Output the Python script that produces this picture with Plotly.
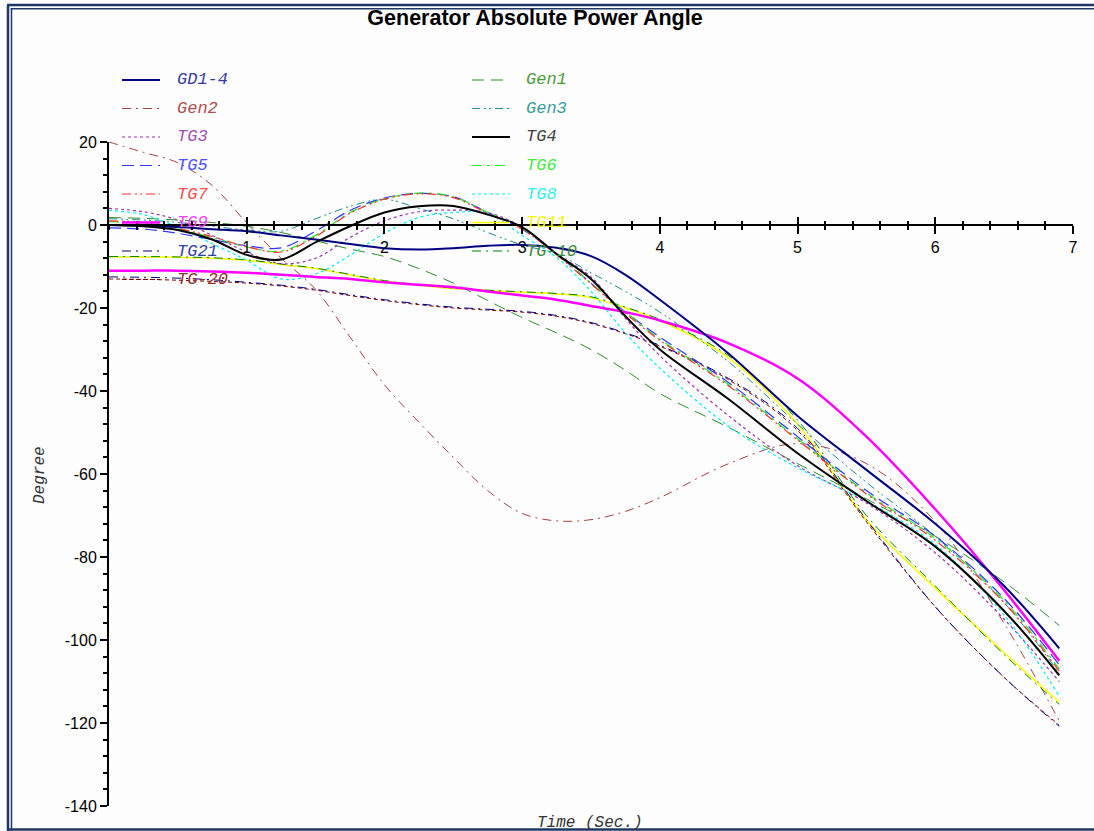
import numpy as np
import plotly.graph_objects as go

# ---- data -------------------------------------------------------------
TIME = [0, 0.25, 0.5, 0.75, 1.0, 1.25, 1.5, 1.75, 2.0, 2.25, 2.5, 2.75,
        3.0, 3.25, 3.5, 3.75, 4.0, 4.5, 5.0, 5.5, 6.0, 6.5, 6.9]

GD1_4 = [0, -0.2, -0.5, -1.0, -1.5, -2.5, -3.5, -4.6, -5.6, -5.9, -5.6, -5.0,
         -4.8, -5.5, -7.5, -12, -18, -31, -46, -59, -72, -87, -102]
GEN1 = [1.8, 1.6, 1.2, 0.6, -0.3, -1.8, -3.8, -5.8, -7.6, -10.5, -14, -18.2,
        -22.3, -26, -30, -35, -40.6, -48.8, -57.5, -66, -75, -86, -96.5]
GEN2 = [20, 17.5, 15, 9.5, 0.5, -8, -15.5, -27, -38.5, -47.5, -56, -64,
        -69.5, -71.3, -71, -69, -65.7, -57.5, -52.7, -57.5, -71.5, -96, -119.5]
GEN3 = [1.5, 1.2, 0.6, -0.3, -1.2, -1.5, 1.5, 4.5, 6.2, 4.0, 1.5, -1.8,
        -4.8, -7, -11.5, -16, -21, -33, -48, -62, -75, -91, -108]
TG3 = [4, 3.2, 1.2, -2.5, -6.5, -9.3, -8, -3, 1, 3.2, 3.6, 3.0,
       -0.5, -7, -12.5, -22.5, -31.5, -46, -58, -67, -79, -95, -110]
TG4 = [0, -0.3, -1.2, -3.5, -7.2, -8.3, -4.2, -0.3, 3.0, 4.5, 4.6, 2.5,
       -0.5, -7, -13, -22, -30, -42, -55, -66.5, -77.5, -93, -108.5]
TG5 = [-0.7, -1.0, -2.0, -3.5, -5.0, -5.5, -1.5, 3.5, 6.5, 7.6, 6.8, 3.0,
       -1.0, -7, -14, -21, -27, -38, -51, -64, -75, -90, -106]
TG6 = [0.8, 0.4, -1.0, -3.0, -5.3, -6.3, -2.5, 3.0, 6.3, 7.7, 6.8, 3.0,
       -0.8, -7, -14, -21, -27.5, -38.5, -51.5, -64.5, -75.5, -90.5, -107]
TG7 = [1.0, 0.6, -0.8, -2.8, -5.2, -6.5, -2.8, 2.8, 6.2, 7.5, 6.6, 2.8,
       -1.0, -7.2, -14.2, -21.3, -27.8, -38.8, -51.8, -64.8, -76, -91, -107.5]
TG8 = [3.5, 2.5, -0.5, -4.5, -8.5, -13, -11.8, -7.3, -2, 1.8, 3, 2.8,
       -2.5, -7.8, -16, -26, -34.5, -48.5, -58.5, -66.5, -77, -94, -113.5]
TG9 = [-11, -11, -11, -11.2, -11.5, -12, -12.5, -13, -13.8, -14.4, -15, -16,
       -17, -18, -19.5, -21, -23, -28.5, -37, -51, -68.5, -88, -105]
TG11 = [-7.7, -7.7, -7.8, -8.0, -8.5, -9.5, -10.5, -12, -13.5, -14.5, -15.3, -15.8,
        -16.2, -16.6, -17.5, -20, -23, -32, -48, -71, -87.5, -103, -115]
TG21 = [-12.5, -12.6, -12.8, -13.2, -13.8, -14.5, -15.5, -16.8, -18, -19, -19.8, -20.3,
        -20.8, -21.8, -23.5, -26, -29, -37, -49, -71, -92, -109, -120.8]
TG_10 = [-7.6, -7.6, -7.7, -7.9, -8.4, -9.4, -10.4, -11.9, -13.4, -14.4, -15.2, -15.7,
         -16.1, -16.5, -17.3, -19.8, -22.8, -31.5, -47, -70, -87, -103.5, -115.5]
TG_20 = [-13, -13.1, -13.3, -13.6, -14, -14.7, -15.7, -17, -18.2, -19.2, -20, -20.5,
         -21, -22, -23.7, -26.2, -29.2, -37.3, -49.5, -71.5, -92, -109, -120.5]

# legend order (two columns, filled row by row)
NAMES = ["GD1-4", "Gen1", "Gen2", "Gen3", "TG3", "TG4", "TG5", "TG6",
         "TG7", "TG8", "TG9", "TG11", "TG21", "TG-10", "TG-20"]
SERIES = {"GD1-4": GD1_4, "Gen1": GEN1, "Gen2": GEN2, "Gen3": GEN3,
          "TG3": TG3, "TG4": TG4, "TG5": TG5, "TG6": TG6, "TG7": TG7,
          "TG8": TG8, "TG9": TG9, "TG11": TG11, "TG21": TG21,
          "TG-10": TG_10, "TG-20": TG_20}

X_TICKS = [0, 1, 2, 3, 4, 5, 6, 7]
X_TICK_TEXT = ["", "1", "2", "3", "4", "5", "6", "7"]
Y_TICKS = [-140, -120, -100, -80, -60, -40, -20, 0, 20]
Y_TICK_TEXT = ["-140", "-120", "-100", "-80", "-60", "-40", "-20", "0", "20"]

TITLE = "Generator Absolute Power Angle"
X_TITLE = "Time (Sec.)"
Y_TITLE = "Degree"

# ---- styles -----------------------------------------------------------
STYLE = {
    "GD1-4": dict(color="#000080", width=2.0, dash="solid", text="#3a3a9a"),
    "Gen1":  dict(color="#2e8b2e", width=1.0, dash="12px,7px", text="#4a9a3a"),
    "Gen2":  dict(color="#a04040", width=1.0, dash="9px,5px,2px,5px", text="#a85050"),
    "Gen3":  dict(color="#1a8a8a", width=1.0, dash="8px,4px,2px,3px,2px,4px", text="#3a9a9a"),
    "TG3":   dict(color="#9933aa", width=1.2, dash="3px,3px", text="#a050b0"),
    "TG4":   dict(color="#000000", width=2.0, dash="solid", text="#404040"),
    "TG5":   dict(color="#3333ff", width=1.2, dash="12px,6px", text="#5050ff"),
    "TG6":   dict(color="#22ee22", width=1.2, dash="10px,5px,3px,5px", text="#40ee40"),
    "TG7":   dict(color="#ff3030", width=1.2, dash="9px,4px,2px,3px,2px,4px", text="#ff4a4a"),
    "TG8":   dict(color="#00eeee", width=1.2, dash="3px,3px", text="#30f0f0"),
    "TG9":   dict(color="#ff00ff", width=2.5, dash="solid", text="#ff40ff"),
    "TG11":  dict(color="#ffff00", width=1.5, dash="solid", text="#f5f500"),
    "TG21":  dict(color="#000080", width=1.0, dash="9px,5px,2px,5px", text="#3040a0"),
    "TG-10": dict(color="#008000", width=1.0, dash="9px,5px,2px,5px", text="#3a8a3a"),
    "TG-20": dict(color="#800000", width=1.0, dash="4px,3px", text="#903030"),
}
DRAW_ORDER = ["Gen2", "TG11", "TG-10", "TG-20", "TG21", "Gen1", "Gen3", "TG3",
              "TG8", "TG5", "TG6", "TG7", "TG9", "GD1-4", "TG4"]

# ---- geometry ---------------------------------------------------------
W, H = 1094, 831
ML, MR, MT, MB = 109, 21, 142, 25
PW, PH = W - ML - MR, H - MT - MB
X_RANGE = [0, 7]
Y_RANGE = [-140, 20]


def px(x):
    return (x - ML) / PW


def py(y):
    return (H - MB - y) / PH


MONO = "Courier New, Liberation Mono, monospace"
SANS = "Arial, Liberation Sans, sans-serif"

fig = go.Figure()
for name in DRAW_ORDER:
    st = STYLE[name]
    fig.add_trace(go.Scatter(
        x=TIME, y=SERIES[name], name=name, mode="lines",
        line=dict(color=st["color"], width=st["width"], dash=st["dash"],
                  shape="spline", smoothing=1.0),
        showlegend=False, hoverinfo="x+y+name"))

# companion axis carrying the upward half of the crossing x ticks
fig.add_trace(go.Scatter(x=[], y=[], xaxis="x2", yaxis="y",
                         showlegend=False, hoverinfo="skip"))

x_axis_pos = (0 - Y_RANGE[0]) / (Y_RANGE[1] - Y_RANGE[0])
minor_x = [round(v, 1) for v in np.arange(0, 7.0001, 0.2)]

fig.update_layout(
    width=W, height=H,
    margin=dict(l=ML, r=MR, t=MT, b=MB),
    paper_bgcolor="#fdfdfd", plot_bgcolor="#fdfdfd",
    title=dict(text="<b>" + TITLE + "</b>", x=535 / W, xanchor="center",
               y=1 - 17 / H, yanchor="middle", yref="container",
               font=dict(family=SANS, size=21.5, color="black")),
    xaxis=dict(range=X_RANGE, domain=[0, 1], anchor="free", position=x_axis_pos,
               showline=True, linecolor="black", linewidth=2,
               showgrid=False, zeroline=False,
               tickmode="array", tickvals=X_TICKS, ticktext=X_TICK_TEXT,
               ticks="outside", ticklen=8, tickwidth=2, tickcolor="black",
               tickfont=dict(family=SANS, size=16, color="black"),
               minor=dict(tickmode="array", tickvals=minor_x, ticks="outside",
                          ticklen=4, tickwidth=2, tickcolor="black", showgrid=False)),
    xaxis2=dict(range=X_RANGE, overlaying="x", anchor="free", position=x_axis_pos,
                side="bottom", showline=False, showgrid=False, zeroline=False,
                showticklabels=False,
                tickmode="array", tickvals=X_TICKS,
                ticks="inside", ticklen=8, tickwidth=2, tickcolor="black",
                minor=dict(tickmode="array", tickvals=minor_x, ticks="inside",
                           ticklen=4, tickwidth=2, tickcolor="black", showgrid=False)),
    yaxis=dict(range=Y_RANGE, domain=[0, 1], anchor="x",
               showline=True, linecolor="black", linewidth=2,
               showgrid=False, zeroline=False,
               tickmode="array", tickvals=Y_TICKS, ticktext=Y_TICK_TEXT,
               ticks="outside", ticklen=7, tickwidth=2, tickcolor="black",
               tickfont=dict(family=SANS, size=16, color="black"),
               minor=dict(dtick=4, tick0=-140, ticks="outside", ticklen=4,
                          tickwidth=2, tickcolor="black", showgrid=False)),
)

# axis titles
fig.add_annotation(text="<i>" + Y_TITLE + "</i>", textangle=-90,
                   xref="paper", yref="paper", x=px(40), y=py(475),
                   xanchor="center", yanchor="middle",
                   showarrow=False, font=dict(family=MONO, size=16, color="#333333"))
fig.add_annotation(text="<i>" + X_TITLE + "</i>",
                   xref="paper", yref="paper", x=px(590), y=py(823),
                   xanchor="center", yanchor="middle",
                   showarrow=False, font=dict(family=MONO, size=16, color="#333333"))

# in-plot legend: two columns of sample line + label
for i, name in enumerate(NAMES):
    row, col = divmod(i, 2)
    yc = 80 + 28.5 * row
    x0 = 122 if col == 0 else 472
    tx = 175 if col == 0 else 524
    st = STYLE[name]
    fig.add_shape(type="line", xref="paper", yref="paper",
                  x0=px(x0), x1=px(x0 + 38), y0=py(yc), y1=py(yc),
                  line=dict(color=st["color"], width=max(st["width"], 1.2), dash=st["dash"]))
    fig.add_annotation(text="<i>" + name + "</i>", xref="paper", yref="paper",
                       x=px(tx), y=py(yc), xanchor="left", yanchor="middle",
                       showarrow=False, font=dict(family=MONO, size=17, color=st["text"]))

# double frame around the chart
FRAME = "#1f3864"
for (xa, ya, xb, yb, w) in [
        (8, 5, 8, H, 2.5), (11.5, 9, 11.5, H, 1.5),
        (7, 5, W, 5, 2.5), (10.5, 8.8, W, 8.8, 1.5),
        (7, 829.5, W, 829.5, 2.5)]:
    fig.add_shape(type="line", xref="paper", yref="paper",
                  x0=px(xa), y0=py(ya), x1=px(xb), y1=py(yb),
                  line=dict(color=FRAME, width=w))

fig.write_html("out.html")
